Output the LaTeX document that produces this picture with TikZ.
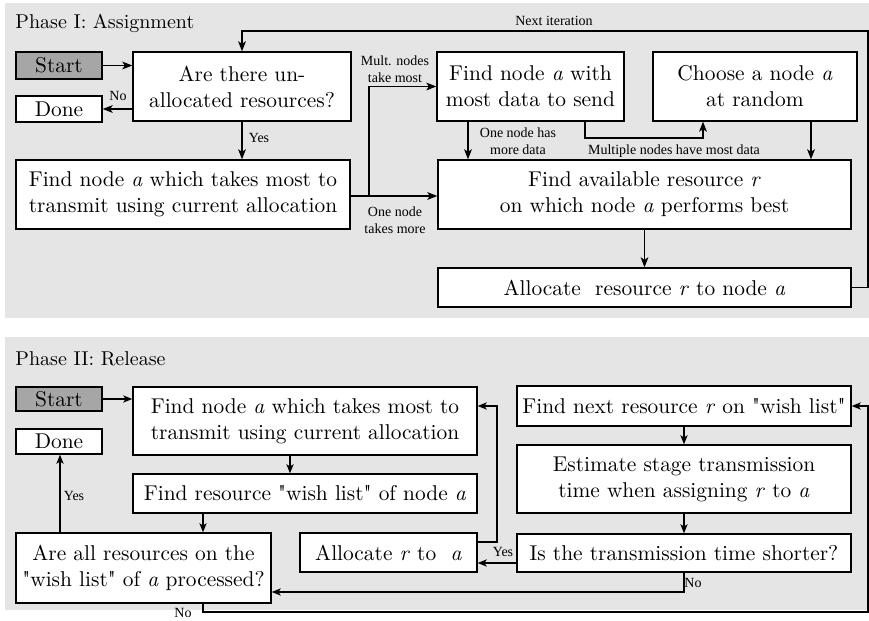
\documentclass[tikz,border=0pt]{standalone}
\usepackage{fontspec}
\newfontfamily\labfont{Liberation Serif}
\usetikzlibrary{arrows.meta}
\definecolor{panelgray}{gray}{0.9}
\definecolor{startgray}{gray}{0.65}
\newcommand\boxfont{\fontsize{10.7}{13}\selectfont}
\newcommand\labsize{\labfont\fontsize{7}{8.5}\selectfont}
\newcommand\titlesize{\fontsize{10}{12}\selectfont}
\newcommand\sq{\textquotedbl}
\begin{document}
\begin{tikzpicture}[x=0.5pt,y=-0.5pt,
  box/.style={draw, line width=0.6pt, fill=white, inner sep=0pt, align=center, font=\boxfont},
  startbox/.style={box, fill=startgray},
  lab/.style={font=\labsize, align=center, inner sep=0pt},
  ttl/.style={font=\titlesize, anchor=base west, inner sep=0pt},
  arr/.style={-{Stealth[length=5pt,width=3.8pt,inset=1.2pt]}, line width=0.9pt},
  arrb/.style={-{Stealth[length=4.6pt,width=3.6pt,inset=1.2pt]}, line width=0.75pt}]
% page and the two phase panels
\fill[white] (0,0) rectangle (869,621);
\useasboundingbox (0,0) rectangle (869,621);
\fill[panelgray] (5,3) rectangle (869,318);
\fill[panelgray] (5,337) rectangle (869,610);

% ---------------- Phase I ----------------
\node[ttl] (t1) at (15,28) {Phase I: Assignment};
\node[startbox, minimum width=43pt, minimum height=13.5pt] (start1) at (59,65.5) {Start};
\node[box, minimum width=43pt, minimum height=13pt] (done1) at (59,109) {Done};
\node[box, minimum width=109pt, minimum height=34.5pt] (dec1) at (242,86.5) {Are there un-\\allocated resources?};
\node[box, minimum width=167pt, minimum height=34.5pt] (findA) at (183,194.5) {Find node \textit{a} which takes most to\\transmit using current allocation};
\node[box, minimum width=93.5pt, minimum height=34.5pt] (most) at (530.5,86.5) {Find node \textit{a} with\\most data to send};
\node[box, minimum width=102pt, minimum height=34.5pt] (rand) at (755,86.5) {Choose a node \textit{a}\\at random};
\node[box, minimum width=206.5pt, minimum height=34.5pt] (avail) at (644.5,194.5) {Find available resource \textit{r}\\on which node \textit{a} performs best};
\node[box, minimum width=206.5pt, minimum height=19.5pt] (alloc) at (644.5,287.5) {Allocate\ \ resource \textit{r} to node \textit{a}};

\draw[arr] (start1.east) -- (dec1.west |- start1.east);
\draw[arr] (dec1.west |- done1.east) -- (done1.east);
\draw[arr] (dec1.south) -- (dec1.south |- findA.north);
\coordinate (split) at (369,196);
\draw[arr] (findA.east |- split) -- (avail.west |- split);
\draw[arr] (split) -- (split |- most.west) -- (most.west);
\draw[arr] (468,0 |- most.south) -- (468,0 |- avail.north);
\draw[arr] (585,0 |- most.south) -- (585,138) -- (703,138) -- (703,0 |- rand.south);
\draw[arr] (811,0 |- rand.south) -- (811,0 |- avail.north);
\draw[arr] (avail.south) -- (alloc.north);
\draw[arr] (alloc.east) -- (868,0 |- alloc.east) -- (868,31) -- (dec1.north |- 0,31) -- (dec1.north);

\node[lab] (no1) at (118,96) {No};
\node[lab] (yes1) at (259,138) {Yes};
\node[lab] (mult) at (395,69) {Mult. nodes\\take most};
\node[lab] (onemore) at (395,220) {One node\\takes more};
\node[lab] (onedata) at (518,141) {One node has\\more data};
\node[lab] (multdata) at (674,151) {Multiple nodes have most data};
\node[lab] (nextit) at (554,21) {Next iteration};

% ---------------- Phase II ----------------
\node[ttl] (t2) at (15,365) {Phase II: Release};
\node[startbox, minimum width=43pt, minimum height=12pt] (start2) at (59,399) {Start};
\node[box, minimum width=43pt, minimum height=12.5pt] (done2) at (59,441.5) {Done};
\node[box, minimum width=172pt, minimum height=34pt] (findB) at (305,421) {Find node \textit{a} which takes most to\\transmit using current allocation};
\node[box, minimum width=172pt, minimum height=19.5pt] (wish) at (305,493.5) {Find resource \sq wish list\sq{} of node \textit{a}};
\node[box, minimum width=127.5pt, minimum height=35pt] (areall) at (143.5,568) {Are all resources on the\\\sq wish list\sq{} of \textit{a} processed?};
\node[box, minimum width=88.5pt, minimum height=19.5pt] (alloc2) at (388.5,552.5) {Allocate \textit{r} to\ \ \textit{a}};
\node[box, minimum width=167pt, minimum height=20pt] (next) at (684,406) {Find next resource \textit{r} on \sq wish list\sq};
\node[box, minimum width=167pt, minimum height=34pt] (estim) at (684,479) {Estimate stage transmission\\time when assigning \textit{r} to \textit{a}};
\node[box, minimum width=167pt, minimum height=19pt] (short) at (684,553) {Is the transmission time shorter?};

\draw[arrb] (start2.east) -- (findB.west |- start2.east);
\draw[arrb] (290,0 |- findB.south) -- (290,0 |- wish.north);
\draw[arrb] (203,0 |- wish.south) -- (203,0 |- areall.north);
\draw[arrb] (60,0 |- areall.north) -- (60,0 |- done2.south);
\draw[arrb] (alloc2.east |- 0,542) -- (497,542) -- (497,406) -- (findB.east |- 0,406);
\draw[arrb] (next.south) -- (estim.north);
\draw[arrb] (estim.south) -- (short.north);
\draw[arrb] (short.west |- 0,563) -- (alloc2.east |- 0,563);
\draw[arrb] (short.south) -- (684,592) -- (areall.east |- 0,592);
\draw[arrb] (203,0 |- areall.south) -- (203,612) -- (868,612) -- (868,406) -- (next.east);

\node[lab] (yes2) at (74,496) {Yes};
\node[lab] (yes3) at (503,552) {Yes};
\node[lab] (no2) at (693,583) {No};
\node[lab] (no3) at (183,613) {No};
\end{tikzpicture}
\end{document}
